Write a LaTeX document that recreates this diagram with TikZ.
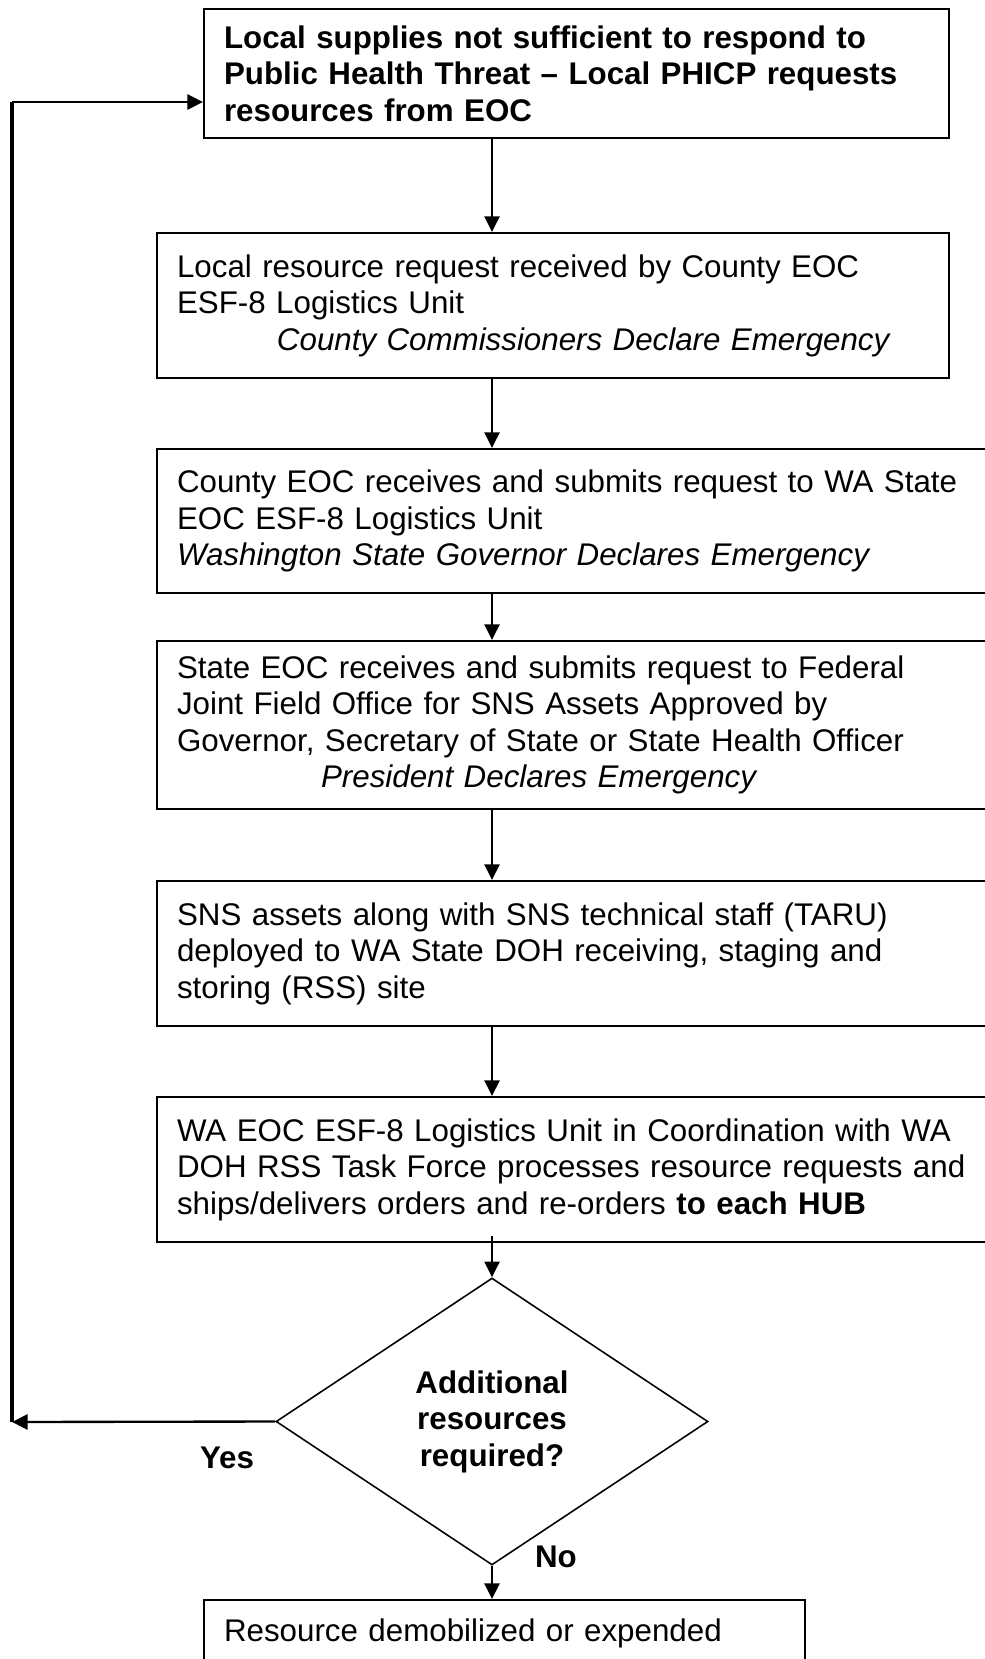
\documentclass[tikz,border=0pt]{standalone}
\usepackage{fontspec}
\setmainfont{Liberation Sans}
\usetikzlibrary{arrows.meta}
\usetikzlibrary{shapes.geometric}

\begin{document}
\begin{tikzpicture}[x=0.3833pt, y=-0.3833pt,
    font=\fontsize{12}{14}\selectfont,
    stepbox/.style={draw, line width=0.75pt, anchor=north west, align=left,
      inner xsep=7.7pt, inner ysep=0pt},
    decision/.style={draw, diamond, line width=0.6pt, align=center, inner sep=0pt,
      minimum width=165.6pt, minimum height=110pt,
      font=\fontsize{12}{14}\selectfont\bfseries},
    answer/.style={font=\fontsize{12}{14}\selectfont\bfseries},
    flow/.style={line width=0.75pt, -{Triangle[length=6pt, width=5.8pt]}}]
    \useasboundingbox (0,0) rectangle (985,1659);

    % request chain, top to bottom
    \node[stepbox, text width=270.2pt, minimum height=49.4pt,
      font=\fontsize{12}{14}\selectfont\bfseries] (local) at (203,8)
      {Local supplies not sufficient to respond to\\
       Public Health Threat – Local PHICP requests\\
       resources from EOC};
    \node[stepbox, text width=288.2pt, minimum height=55.6pt] (county) at (156,232)
      {Local resource request received by County EOC\\
       ESF-8 Logistics Unit\\
       \hspace*{38.3pt}\textit{County Commissioners Declare Emergency}};
    \node[stepbox, text width=311.9pt, minimum height=55.2pt] (state) at (156,448)
      {County EOC receives and submits request to WA State\\
       EOC ESF-8 Logistics Unit\\
       \textit{Washington State Governor Declares Emergency}};
    \node[stepbox, text width=311.9pt, minimum height=64.4pt] (federal) at (156,640)
      {State EOC receives and submits request to Federal\\
       Joint Field Office for SNS Assets Approved by\\
       Governor, Secretary of State or State Health Officer\\
       \hspace*{55.2pt}\textit{President Declares Emergency}};
    \node[stepbox, text width=311.9pt, minimum height=55.6pt] (rss) at (156,880)
      {SNS assets along with SNS technical staff (TARU)\\
       deployed to WA State DOH receiving, staging and\\
       storing (RSS) site};
    \node[stepbox, text width=311.9pt, minimum height=55.6pt] (hub) at (156,1096)
      {WA EOC ESF-8 Logistics Unit in Coordination with WA\\
       DOH RSS Task Force processes resource requests and\\
       ships/delivers orders and re-orders \textbf{to each HUB}};
    \node[decision] (more) at (492,1421.5) {Additional\\resources\\required?};
    \node[stepbox, text width=215pt, minimum height=25.3pt] (done) at (203,1599)
      {Resource demobilized or expended};

    % arrows all run down one line
    \coordinate (spine) at (492,0);
    \draw[flow] (local.south -| spine) -- (county.north -| spine);
    \draw[flow] (county.south -| spine) -- (state.north -| spine);
    \draw[flow] (state.south -| spine) -- (federal.north -| spine);
    \draw[flow] (federal.south -| spine) -- (rss.north -| spine);
    \draw[flow] (rss.south -| spine) -- (hub.north -| spine);
    \draw[flow] ([yshift=2.7pt]hub.south -| spine) -- (more.north);
    \draw[flow] (more.south) -- (done.north -| more.south);

    % Yes loops back to the top box
    \coordinate (turn) at (12,1422);
    \coordinate (back) at (12,102);
    \draw[flow, line width=0.9pt] (more.west) -- (turn);
    \draw[line width=1.2pt] (turn) -- (back);
    \draw[flow, line width=0.9pt] (back) -- (local.west |- back);

    \node[answer] (yes) at (227,1458) {Yes};
    \node[answer] (no) at (556,1557) {No};
\end{tikzpicture}
\end{document}
